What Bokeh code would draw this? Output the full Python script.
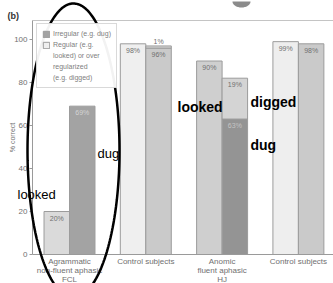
import numpy as np
from bokeh.plotting import figure
from bokeh.models import (ColumnDataSource, Label, Legend, LegendItem, PolyAnnotation,
                          FixedTicker, Range1d, LinearAxis)
from bokeh.core.properties import value
from bokeh.embed import file_html
from bokeh.resources import INLINE

# ---- data ----
groups = ["Agrammatic\nnon-fluent aphasic\nFCL", "Control subjects",
          "Anomic\nfluent aphasic\nHJ", "Control subjects"]
regular = [20, 98, 90, 99]
irregular = [69, 96, 63, 98]
overreg = [0, 1, 19, 0]
yticks = [0, 20, 40, 60, 80, 100]
legend_irregular = ["Irregular (e.g. dug)"]
legend_regular = ["Regular (e.g.", "looked) or over", "regularized", "(e.g. digged)"]

regular_colors = ["#dadada", "#efefef", "#cfcfcf", "#eeeeee"]
irregular_colors = ["#a3a3a3", "#cacaca", "#949494", "#cacaca"]
overreg_color = "#d4d4d4"
regular_text_colors = ["#707070", "#707070", "#707070", "#707070"]
irregular_text_colors = ["#d4d4d4", "#707070", "#c4c4c4", "#707070"]

FONT = "Liberation Sans"
W, H = 333, 283

# plot-area geometry (pixels), used to set ranges and place annotations
PX_PER_X = 76.3
PX_PER_Y = 2.15
AX_LEFT_PX, AX_BOTTOM_PX, AX_TOP_PX = 32, 254, 20
X_AX = -0.485                      # data x at the left axis
def dx(px):
    return X_AX + (px - AX_LEFT_PX) / PX_PER_X
def dy(py):
    return (AX_BOTTOM_PX - py) / PX_PER_Y
Y_TOP = dy(AX_TOP_PX)
X_END = dx(W)

p = figure(width=W, height=H, x_range=Range1d(dx(0), dx(W)), y_range=Range1d(dy(H), dy(0)),
           output_backend="svg", toolbar_location=None, x_axis_type=None, y_axis_type=None,
           min_border=0, min_border_left=0, min_border_right=0, min_border_top=0,
           min_border_bottom=0)
p.xgrid.visible = False
p.ygrid.visible = False
p.outline_line_color = None
p.background_fill_color = "white"
p.border_fill_color = "white"

# axes
ya = LinearAxis(fixed_location=X_AX, bounds=(0, Y_TOP), ticker=FixedTicker(ticks=yticks))
ya.axis_line_color = "#9a9a9a"
ya.major_tick_line_color = "#9a9a9a"
ya.major_tick_out = 3
ya.major_tick_in = 0
ya.minor_tick_line_color = None
ya.major_label_standoff = 2
ya.major_label_text_font_size = "8px"
ya.major_label_text_color = "#707070"
ya.major_label_text_font = FONT
p.add_layout(ya, "left")

n = len(groups)
xa = LinearAxis(fixed_location=0, bounds=(X_AX, X_END), ticker=FixedTicker(ticks=list(range(n))))
xa.major_label_overrides = {i: g for i, g in enumerate(groups)}
xa.axis_line_color = "#9a9a9a"
xa.major_tick_line_color = None
xa.minor_tick_line_color = None
xa.major_label_standoff = -4
xa.major_label_text_font_size = "8px"
xa.major_label_text_color = "#707070"
xa.major_label_text_font = FONT
xa.major_label_text_line_height = 1.0
p.add_layout(xa, "below")

ta = LinearAxis(fixed_location=Y_TOP, bounds=(X_AX, X_END), ticker=FixedTicker(ticks=[]))
ta.axis_line_color = "#c4c4c4"
ta.major_tick_line_color = None
ta.minor_tick_line_color = None
ta.major_label_text_font_size = "0px"
p.add_layout(ta, "above")

bw = 0.334
reg_src = ColumnDataSource(dict(x=[i - bw / 2 for i in range(n)], top=regular,
                                color=regular_colors, tcol=regular_text_colors,
                                lab=[f"{v}%" for v in regular]))
irr_src = ColumnDataSource(dict(x=[i + bw / 2 for i in range(n)], top=irregular,
                                color=irregular_colors, tcol=irregular_text_colors,
                                lab=[f"{v}%" for v in irregular]))
ov_idx = [i for i in range(n) if overreg[i] > 0]
ov_src = ColumnDataSource(dict(x=[i + bw / 2 for i in ov_idx],
                               bottom=[irregular[i] for i in ov_idx],
                               top=[irregular[i] + overreg[i] for i in ov_idx]))

reg_r = p.vbar(x="x", top="top", width=bw, fill_color="color", line_color="#9c9c9c", source=reg_src)
irr_r = p.vbar(x="x", top="top", width=bw, fill_color="color", line_color="#9c9c9c", source=irr_src)
p.vbar(x="x", bottom="bottom", top="top", width=bw, fill_color=overreg_color,
       line_color="#9c9c9c", source=ov_src)

lab_kw = dict(text_align="center", text_font_size="7px", text_font=value(FONT))
p.text(x="x", y="top", text="lab", text_baseline="top", y_offset=3, text_color="tcol",
       source=reg_src, **lab_kw)
p.text(x="x", y="top", text="lab", text_baseline="top", y_offset=3, text_color="tcol",
       source=irr_src, **lab_kw)
ov_in = ColumnDataSource(dict(x=[i + bw / 2 for i in ov_idx if overreg[i] >= 5],
                              y=[irregular[i] + overreg[i] for i in ov_idx if overreg[i] >= 5],
                              lab=[f"{overreg[i]}%" for i in ov_idx if overreg[i] >= 5]))
ov_out = ColumnDataSource(dict(x=[i + bw / 2 for i in ov_idx if overreg[i] < 5],
                               y=[irregular[i] + overreg[i] for i in ov_idx if overreg[i] < 5],
                               lab=[f"{overreg[i]}%" for i in ov_idx if overreg[i] < 5]))
p.text(x="x", y="y", text="lab", text_baseline="top", y_offset=3, text_color="#707070",
       source=ov_in, **lab_kw)
p.text(x="x", y="y", text="lab", text_baseline="bottom", y_offset=-1, text_color="#707070",
       source=ov_out, **lab_kw)

# legend: swatches come from the bars; continuation lines use an empty (swatch-less) renderer
blank = p.vbar(x=[], top=[], width=0.3, fill_alpha=0, line_alpha=0)
items = [LegendItem(label=legend_irregular[0], renderers=[irr_r], index=0),
         LegendItem(label=legend_regular[0], renderers=[reg_r], index=1)]
items += [LegendItem(label=t, renderers=[blank]) for t in legend_regular[1:]]
legend = Legend(items=items, location=(36, H - 88), margin=0, padding=5, spacing=2,
                glyph_width=8, glyph_height=8, label_standoff=3, label_height=9,
                label_text_font_size="7px", label_text_color="#808080",
                label_text_font=FONT,
                border_line_color="#b4b4b4", background_fill_color="white")
p.add_layout(legend)

# texts
p.add_layout(Label(x=dx(12), y=dy(137), text="% correct", angle=np.pi / 2,
                   text_align="center", text_baseline="middle", text_font_size="7px",
                   text_color="#707070", text_font=FONT))
p.add_layout(Label(x=dx(7), y=dy(15), text="(b)", text_font_size="9px", text_font_style="bold",
                   text_color="#333333", text_font=FONT, text_baseline="alphabetic"))
for txt, px, py, style, size in [("looked", 17, 194, "normal", "13px"),
                                 ("dug", 97, 153, "normal", "13px"),
                                 ("looked", 177, 106, "bold", "14px"),
                                 ("digged", 250, 101, "bold", "14px"),
                                 ("dug", 250, 144, "bold", "14px")]:
    p.add_layout(Label(x=dx(px), y=dy(py), text=txt, text_font_size=size,
                       text_font_style=style, text_color="black", text_font=FONT,
                       text_baseline="alphabetic", text_align="left"))

# hand-drawn ellipse overlay
t = np.linspace(0, 2 * np.pi, 240)
ex = [dx(73 + 46 * np.cos(a)) for a in t]
ey = [dy(150 + 147 * np.sin(a)) for a in t]
p.add_layout(PolyAnnotation(xs=ex, ys=ey, xs_units="data", ys_units="data",
                            fill_color=None, fill_alpha=0, line_color="black",
                            line_alpha=1.0, line_width=2.5))

# small grey dome at the top edge
t2 = np.linspace(0, np.pi, 40)
gx = [dx(241 + 9 * np.cos(a)) for a in t2]
gy = [dy(1 + 6 * np.sin(a)) for a in t2]
p.add_layout(PolyAnnotation(xs=gx, ys=gy, xs_units="data", ys_units="data",
                            fill_color="#6e6e6e", fill_alpha=0.8, line_color=None))

open("out.html", "w").write(file_html(p, INLINE))
